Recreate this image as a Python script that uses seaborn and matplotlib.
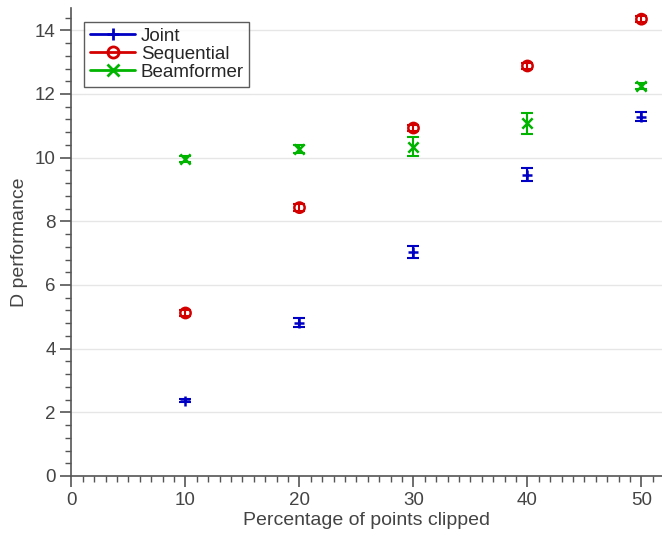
import matplotlib
matplotlib.use("Agg")
import matplotlib.pyplot as plt
from matplotlib.lines import Line2D
from matplotlib.ticker import MultipleLocator
import pandas as pd
import seaborn as sns

# Clipping percentages on the x axis
clip_pct = [10, 20, 30, 40, 50]

# Mean D performance and error half-widths for each method
joint_mean = [2.36, 4.82, 7.04, 9.47, 11.29]
joint_err = [0.05, 0.14, 0.18, 0.20, 0.15]
seq_mean = [5.12, 8.43, 10.93, 12.88, 14.35]
seq_err = [0.10, 0.10, 0.10, 0.10, 0.10]
beam_mean = [9.95, 10.27, 10.35, 11.08, 12.25]
beam_err = [0.10, 0.12, 0.30, 0.33, 0.09]

methods = ["Joint", "Sequential", "Beamformer"]
colors = {"Joint": "#0000c4", "Sequential": "#d40000", "Beamformer": "#00b400"}
markers = {"Joint": "+", "Sequential": "o", "Beamformer": "x"}

df = pd.concat([
    pd.DataFrame({"pct": clip_pct, "D": joint_mean, "err": joint_err, "method": "Joint"}),
    pd.DataFrame({"pct": clip_pct, "D": seq_mean, "err": seq_err, "method": "Sequential"}),
    pd.DataFrame({"pct": clip_pct, "D": beam_mean, "err": beam_err, "method": "Beamformer"}),
], ignore_index=True)

sns.set_style("white")
plt.rcParams["font.family"] = ["Liberation Sans", "DejaVu Sans"]

axis_gray = "#555555"
text_gray = "#444444"

fig = plt.figure(figsize=(6.62, 5.36), dpi=100)
ax = fig.add_axes([0.108, 0.112, 0.892, 0.873])

for m in methods:
    sub = df[df["method"] == m]
    ax.errorbar(sub["pct"], sub["D"], yerr=sub["err"], fmt="none",
                ecolor=colors[m], elinewidth=1.5, capsize=4, capthick=1.5, zorder=3)
    if m == "Sequential":
        sns.scatterplot(data=sub, x="pct", y="D", marker="o", s=55,
                        facecolor="none", edgecolor=colors[m], linewidth=1.8,
                        ax=ax, zorder=4, legend=False)
    else:
        sns.scatterplot(data=sub, x="pct", y="D", marker=markers[m], s=55,
                        color=colors[m], linewidth=1.8, ax=ax, zorder=4,
                        legend=False)

ax.set_xlim(0, 51.8)
ax.set_ylim(0, 14.7)
ax.xaxis.set_major_locator(MultipleLocator(10))
ax.xaxis.set_minor_locator(MultipleLocator(1))
ax.yaxis.set_major_locator(MultipleLocator(2))
ax.yaxis.set_minor_locator(MultipleLocator(0.4))

ax.grid(axis="y", which="major", color="#e6e6e6", linewidth=1.0)
ax.set_axisbelow(True)
for side in ["top", "right"]:
    ax.spines[side].set_visible(False)
for side in ["left", "bottom"]:
    ax.spines[side].set_color(axis_gray)
    ax.spines[side].set_linewidth(1.2)

ax.tick_params(which="major", direction="out", length=8, width=1.2,
               color=axis_gray, labelcolor=text_gray, labelsize=13.5, left=True, bottom=True)
ax.tick_params(which="minor", direction="out", length=4, width=1.0,
               color=axis_gray, left=True, bottom=True)

ax.set_xlabel("Percentage of points clipped", fontsize=14, color=text_gray, labelpad=2)
ax.set_ylabel("D performance", fontsize=14, color=text_gray, labelpad=5)

handles = [Line2D([0], [0], color=colors[m], marker=markers[m], lw=2,
                  markersize=8, markeredgewidth=2,
                  markerfacecolor="none" if m == "Sequential" else colors[m])
           for m in methods]
leg = ax.legend(handles, methods, loc="upper left", bbox_to_anchor=(0.022, 0.97),
                fontsize=13.5, frameon=True, fancybox=False, handlelength=2.4,
                handletextpad=0.3, borderpad=0.3, labelspacing=0.05, borderaxespad=0)
leg.get_frame().set_edgecolor("#333333")
leg.get_frame().set_linewidth(1.0)

fig.savefig("out.png", dpi=100)
